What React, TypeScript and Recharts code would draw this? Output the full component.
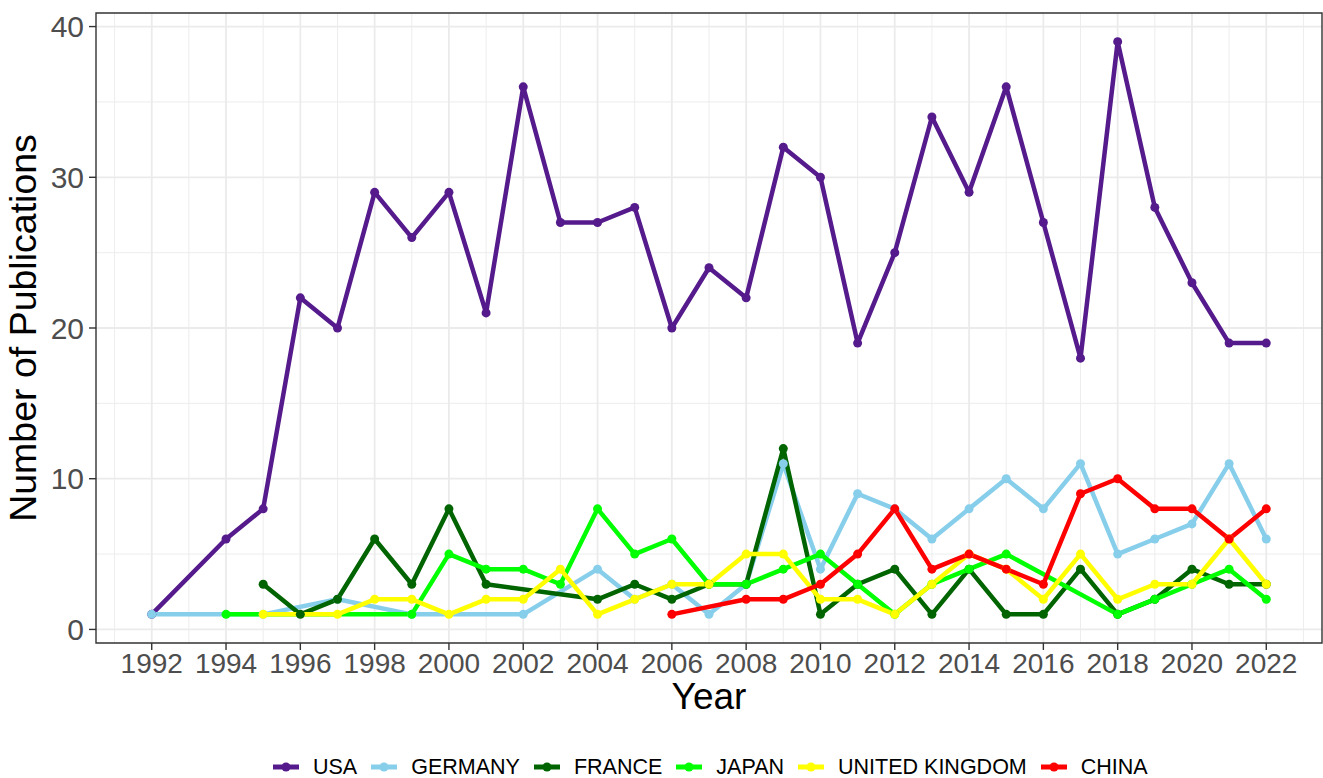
import React from 'react';
import { LineChart, Line, XAxis, YAxis, CartesianGrid, ReferenceArea } from 'recharts';

// Publications per year, one value per year from 1992 to 2022 (null = no record)
const years = [
  1992, 1993, 1994, 1995, 1996, 1997, 1998, 1999, 2000, 2001, 2002,
  2003, 2004, 2005, 2006, 2007, 2008, 2009, 2010, 2011, 2012,
  2013, 2014, 2015, 2016, 2017, 2018, 2019, 2020, 2021, 2022,
];

const usa = [
  1, null, 6, 8, 22, 20, 29, 26, 29, 21, 36,
  27, 27, 28, 20, 24, 22, 32, 30, 19, 25,
  34, 29, 36, 27, 18, 39, 28, 23, 19, 19,
];
const germany = [
  1, null, null, 1, null, 2, null, 1, null, null, 1,
  null, 4, 2, 3, 1, 3, 11, 4, 9, 8,
  6, 8, 10, 8, 11, 5, 6, 7, 11, 6,
];
const france = [
  null, null, null, 3, 1, 2, 6, 3, 8, 3, null,
  null, 2, 3, 2, 3, 3, 12, 1, 3, 4,
  1, 4, 1, 1, 4, 1, 2, 4, 3, 3,
];
const japan = [
  null, null, 1, null, null, null, null, 1, 5, 4, 4,
  3, 8, 5, 6, 3, 3, 4, 5, 3, 1,
  3, 4, 5, null, null, 1, 2, 3, 4, 2,
];
const unitedKingdom = [
  null, null, null, 1, null, 1, 2, 2, 1, 2, 2,
  4, 1, 2, 3, 3, 5, 5, 2, 2, 1,
  3, 5, 4, 2, 5, 2, 3, 3, 6, 3,
];
const china = [
  null, null, null, null, null, null, null, null, null, null, null,
  null, null, null, 1, null, 2, 2, 3, 5, 8,
  4, 5, 4, 3, 9, 10, 8, 8, 6, 8,
];

const seriesNames = ['USA', 'GERMANY', 'FRANCE', 'JAPAN', 'UNITED KINGDOM', 'CHINA'];
const seriesColors = ['#551A8B', '#87CEEB', '#006400', '#00FF00', '#FFFF00', '#FF0000'];
const seriesValues = [usa, germany, france, japan, unitedKingdom, china];

const xTicks = [1992, 1994, 1996, 1998, 2000, 2002, 2004, 2006, 2008, 2010, 2012, 2014, 2016, 2018, 2020, 2022];
const xMinor = [1991, 1993, 1995, 1997, 1999, 2001, 2003, 2005, 2007, 2009, 2011, 2013, 2015, 2017, 2019, 2021, 2023];
const yTicks = [0, 10, 20, 30, 40];
const yMinor = [5, 15, 25, 35];

const X_DOMAIN: [number, number] = [1990.5, 2023.5];
const Y_DOMAIN: [number, number] = [-0.9, 40.9];

const data = years.map((year, i) => {
  const row: Record<string, number | null> = { year };
  seriesNames.forEach((name, s) => {
    row[name] = seriesValues[s][i];
  });
  return row;
});

const FONT = '"Liberation Sans", Arial, Helvetica, sans-serif';
const xTickStyle = { fontSize: 28, fill: '#4D4D4D', fontFamily: FONT };
const yTickStyle = { fontSize: 30, fill: '#4D4D4D', fontFamily: FONT };

const LegendKey = ({ color }: { color: string }) => (
  <svg width={26} height={14} style={{ display: 'block' }}>
    <line x1={0} y1={7} x2={26} y2={7} stroke={color} strokeWidth={5} />
    <circle cx={13} cy={7} r={4.5} fill={color} />
  </svg>
);

const App: React.FC = () => {
  return (
    <div
      style={{
        position: 'absolute',
        left: 0,
        top: 0,
        width: 1323,
        height: 778,
        background: '#fff',
        fontFamily: FONT,
      }}
    >
      <LineChart
        width={1323}
        height={778}
        data={data}
        margin={{ top: 13, right: 1, left: 0, bottom: 65 }}
      >
        <CartesianGrid
          stroke="#EBEBEB"
          strokeWidth={0.9}
          horizontalValues={yMinor}
          verticalValues={xMinor}
          fill="none"
        />
        <CartesianGrid
          stroke="#EBEBEB"
          strokeWidth={1.8}
          horizontalValues={yTicks}
          verticalValues={xTicks}
          fill="none"
        />
        <XAxis
          dataKey="year"
          type="number"
          domain={X_DOMAIN}
          ticks={xTicks}
          interval={0}
          height={70}
          axisLine={false}
          tickLine={{ stroke: '#333333', strokeWidth: 1.4 }}
          tickSize={7}
          tickMargin={3}
          tick={xTickStyle}
          label={{
            value: 'Year',
            position: 'insideBottom',
            offset: 4,
            style: { fontSize: 37, fill: '#000', fontFamily: FONT },
          }}
        />
        <YAxis
          type="number"
          domain={Y_DOMAIN}
          ticks={yTicks}
          width={96}
          axisLine={false}
          tickLine={{ stroke: '#333333', strokeWidth: 1.4 }}
          tickSize={7}
          tickMargin={5}
          tick={yTickStyle}
          label={{
            value: 'Number of Publications',
            angle: -90,
            position: 'insideLeft',
            offset: 23,
            style: { textAnchor: 'middle', fontSize: 37.5, fill: '#000', fontFamily: FONT },
          }}
        />
        {/* lines first, then all points on top */}
        {seriesNames.map((name, s) => (
          <Line
            key={`line-${name}`}
            dataKey={name}
            type="linear"
            stroke={seriesColors[s]}
            strokeWidth={4.5}
            strokeLinejoin="round"
            dot={false}
            activeDot={false}
            connectNulls
            isAnimationActive={false}
          />
        ))}
        {seriesNames.map((name, s) => (
          <Line
            key={`pts-${name}`}
            dataKey={name}
            type="linear"
            stroke="none"
            dot={{ r: 4.5, fill: seriesColors[s], stroke: 'none' }}
            activeDot={false}
            connectNulls
            legendType="none"
            isAnimationActive={false}
          />
        ))}
        <ReferenceArea
          x1={X_DOMAIN[0]}
          x2={X_DOMAIN[1]}
          y1={Y_DOMAIN[0]}
          y2={Y_DOMAIN[1]}
          fill="none"
          fillOpacity={0}
          stroke="#333333"
          strokeWidth={1.4}
        />
      </LineChart>
      <div
        style={{
          position: 'absolute',
          left: 273,
          top: 755,
          height: 24,
          display: 'flex',
          alignItems: 'center',
          fontSize: 21.5,
          color: '#000',
          whiteSpace: 'nowrap',
        }}
      >
        {seriesNames.map((name, s) => (
          <div key={name} style={{ display: 'flex', alignItems: 'center', marginRight: 14 }}>
            <LegendKey color={seriesColors[s]} />
            <span style={{ marginLeft: 14 }}>{name}</span>
          </div>
        ))}
      </div>
    </div>
  );
};

export default App;
